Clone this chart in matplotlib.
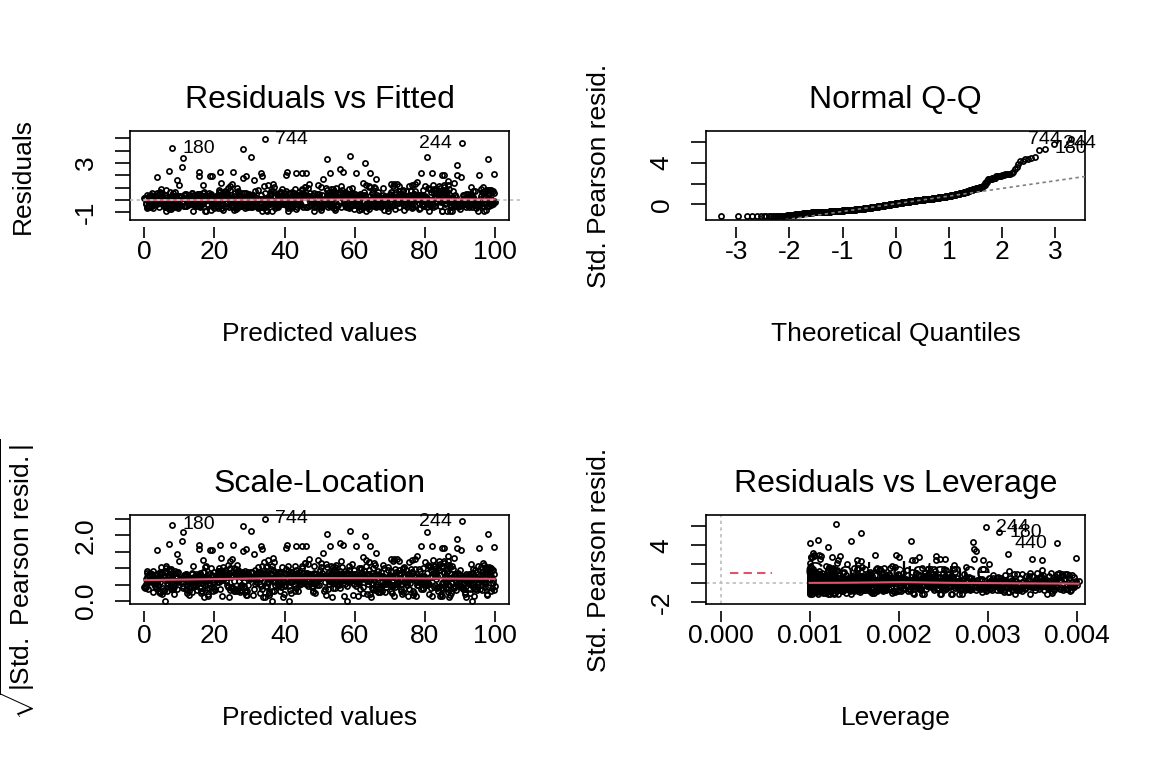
import numpy as np
import matplotlib
matplotlib.use("Agg")
import matplotlib.pyplot as plt
from matplotlib import transforms
from statistics import NormalDist

plt.rcParams["font.family"] = ["Liberation Sans", "DejaVu Sans"]
plt.rcParams["mathtext.fontset"] = "custom"
plt.rcParams["mathtext.rm"] = "Liberation Sans"
plt.rcParams["mathtext.it"] = "Liberation Sans:italic"

# ---- data ----------------------------------------------------------------
# bulk of the observations (predicted value, residual)
band_fitted = [
    43.2, 7.9, 88.4, 21.6, 65.0, 12.3, 97.1, 30.8, 56.7, 79.5,
    3.4, 58.1, 26.9, 91.7, 14.5, 72.2, 38.6, 84.0, 49.3, 60.8,
    95.3, 11.8, 67.4, 33.1, 2.7, 80.6, 45.9, 24.2, 53.5, 76.0,
    28.3, 71.5, 5.6, 99.2, 40.1, 63.7, 17.9, 86.8, 52.4, 35.0,
    61.9, 0.8, 37.7, 82.5, 16.1, 54.6, 93.4, 25.0, 78.3, 47.2,
    13.6, 89.9, 44.7, 6.2, 70.4, 31.5, 57.8, 98.0, 22.1, 66.3,
    50.9, 23.4, 74.8, 9.5, 36.2, 85.1, 18.6, 62.0, 96.5, 41.3,
    81.2, 4.0, 59.6, 29.7, 92.8, 46.5, 15.3, 68.9, 39.4, 73.1,
    34.9, 67.0, 12.9, 55.3, 87.6, 1.9, 48.0, 94.4, 20.5, 77.7,
    7.1, 42.6, 83.7, 27.5, 64.4, 90.3, 52.0, 16.8, 71.0, 38.1,
    97.8, 32.3, 58.9, 14.0, 75.6, 44.1, 6.9, 86.2, 23.8, 61.4,
    19.8, 53.0, 3.1, 79.9, 40.6, 68.2, 95.7, 29.0, 84.5, 36.7,
    63.1, 8.8, 47.4, 91.0, 25.7, 72.9, 35.6, 17.2, 57.1, 82.8,
    45.5, 78.7, 22.6, 0.4, 66.8, 11.1, 88.9, 54.2, 31.9, 99.6,
    26.1, 93.9, 60.0, 38.9, 5.0, 71.8, 15.7, 49.8, 80.1, 57.6,
    70.7, 34.2, 86.0, 12.6, 51.7, 2.3, 64.9, 97.4, 43.8, 27.2,
    9.0, 55.9, 37.3, 76.4, 21.0, 89.2, 48.6, 62.7, 14.8, 93.1,
    87.3, 41.9, 18.0, 65.6, 30.4, 74.3, 6.4, 52.8, 98.9, 23.0,
    56.2, 1.5, 83.0, 33.8, 69.5, 11.9, 94.8, 27.8, 45.0, 79.0,
    32.7, 75.1, 4.6, 60.5, 16.4, 92.2, 47.9, 85.4, 20.8, 53.6,
    68.4, 24.9, 90.6, 44.4, 8.3, 58.4, 13.0, 81.8, 36.1, 77.2,
    15.0, 50.3, 96.1, 29.4, 63.9, 3.8, 73.6, 42.2, 88.1, 35.4,
    84.8, 19.4, 57.3, 37.0, 71.2, 0.2, 46.3, 99.0, 26.6, 65.2,
    40.9, 6.6, 72.6, 23.2, 95.0, 55.0, 31.2, 80.9, 17.5, 67.7,
    59.3, 28.8, 12.2, 87.0, 49.1, 76.9, 3.6, 64.1, 38.4, 91.5,
    22.4, 94.1, 43.6, 69.0, 8.6, 53.9, 17.0, 78.5, 34.5, 85.9,
    77.5, 11.4, 61.6, 30.1, 89.7, 47.0, 5.3, 52.5, 97.9, 24.4,
    36.3, 82.0, 0.7, 66.0, 19.1, 56.5, 92.7, 41.5, 28.0, 73.8,
    53.2, 26.4, 70.0, 14.2, 98.3, 39.7, 86.5, 7.4, 61.1, 45.7,
    90.0, 48.3, 2.9, 75.8, 33.5, 64.6, 21.3, 58.0, 15.9, 81.4,
    11.6, 67.9, 39.8, 83.3, 25.3, 95.9, 50.7, 4.3, 72.0, 44.0,
    61.3, 30.6, 87.8, 9.8, 54.4, 18.4, 79.3, 42.9, 99.4, 27.0,
    46.8, 92.5, 23.7, 68.6, 1.2, 57.9, 35.9, 13.5, 84.2, 74.5,
    5.9, 73.3, 48.9, 31.4, 90.9, 20.0, 65.3, 82.4, 57.0, 16.9,
    85.0, 37.5, 14.7, 60.3, 27.3, 96.8, 44.2, 70.5, 8.1, 52.1,
    29.9, 63.4, 3.0, 77.0, 41.0, 89.0, 18.9, 55.6, 96.3, 34.0,
    71.6, 16.0, 50.0, 92.0, 36.9, 7.7, 80.4, 24.0, 66.5, 43.1,
    54.9, 98.6, 32.0, 10.2, 62.3, 86.9, 45.3, 75.3, 2.0, 21.8,
    17.7, 82.9, 66.2, 38.0, 94.6, 4.9, 51.4, 28.6, 73.0, 40.3,
    43.9, 9.3, 69.3, 25.6, 87.4, 58.6, 12.8, 99.1, 33.3, 78.1,
    64.0, 27.9, 95.2, 47.7, 13.9, 80.0, 0.9, 36.5, 57.4, 70.9,
    20.2, 52.6, 76.2, 35.2, 88.7, 61.8, 42.0, 6.0, 93.6, 15.4,
    97.0, 46.0, 31.7, 72.4, 4.1, 59.8, 17.3, 84.6, 23.5, 68.0,
    38.3, 12.5, 81.0, 55.1, 26.2, 91.4, 65.7, 49.5, 7.3, 75.9,
    2.5, 63.0, 44.6, 90.7, 18.2, 77.8, 30.0, 54.0, 86.3, 22.9,
    79.6, 34.7, 9.7, 59.1, 41.7, 68.8, 14.4, 96.0, 27.6, 85.6,
    50.5, 21.1, 88.0, 6.8, 73.9, 39.3, 62.4, 97.6, 16.6, 45.1,
    32.5, 93.3, 57.7, 11.3, 67.3, 25.9, 83.9, 47.3, 3.3, 71.3,
    60.9, 1.0, 40.0, 76.6, 24.6, 86.1, 53.4, 14.6, 98.2, 34.4,
    17.4, 69.8, 29.3, 92.9, 48.1, 5.2, 80.2, 57.2, 37.8, 74.7,
    44.5, 85.3, 12.0, 63.6, 35.8, 99.3, 22.2, 71.9, 8.4, 51.9,
    91.1, 27.1, 58.3, 3.9, 75.0, 46.4, 16.3, 82.6, 39.5, 65.9,
    6.3, 54.7, 33.0, 78.4, 19.6, 62.1, 88.3, 43.0, 96.6, 24.3,
    70.2, 38.7, 15.5, 49.0, 83.5, 27.4, 94.3, 60.1, 1.7, 56.0,
    7.0, 26.8, 90.4, 64.8, 36.4, 10.9, 73.4, 45.6, 81.7, 53.1,
    59.0, 14.1, 97.3, 42.4, 68.1, 31.1, 86.7, 4.8, 77.3, 20.6,
    35.1, 79.8, 23.9, 95.8, 52.3, 8.9, 66.6, 17.6, 41.4, 87.9,
    83.1, 48.7, 0.5, 61.5, 29.6, 72.8, 13.3, 56.8, 94.0, 37.1,
    19.0, 65.4, 40.5, 89.6, 4.4, 55.4, 30.9, 76.8, 23.1, 98.7,
    47.6, 2.6, 71.4, 33.9, 85.7, 12.7, 58.8, 26.0, 93.0, 63.3,
    74.1, 37.2, 9.1, 52.7, 21.5, 67.6, 96.9, 44.8, 15.2, 81.5,
    28.5, 62.6, 91.9, 5.8, 49.9, 16.2, 84.3, 39.1, 70.6, 54.8,
    58.5, 11.2, 35.3, 80.8, 27.7, 69.4, 43.5, 99.7, 2.1, 75.4,
    42.7, 87.2, 18.3, 66.4, 31.6, 95.1, 7.8, 53.8, 24.7, 73.7,
    13.8, 56.1, 92.3, 36.6, 64.3, 0.0, 77.9, 22.7, 48.4, 85.2,
    68.7, 25.2, 3.7, 79.1, 41.8, 90.8, 34.8, 59.5, 17.1, 86.6,
    97.5, 46.9, 10.4, 63.8, 28.9, 74.9, 38.5, 83.6, 55.7, 6.1,
    32.9, 80.5, 57.5, 19.3, 70.1, 44.3, 8.2, 93.7, 26.3, 61.0,
    54.3, 15.6, 88.6, 39.9, 66.7, 1.4, 75.7, 29.1, 97.2, 47.1,
    22.0, 64.7, 41.2, 84.4, 10.0, 73.2, 31.0, 51.6, 96.4, 5.5,
    87.7, 4.2, 49.4, 60.7, 35.5, 92.6, 18.8, 71.7, 26.5, 56.3,
    38.2, 77.1, 13.1, 55.5, 99.5, 24.1, 67.1, 45.8, 82.1, 8.7,
    61.7, 29.5, 91.2, 47.8, 2.4, 80.3, 16.5, 58.2, 36.8, 72.3,
    10.5, 53.5, 85.8, 33.2, 69.2, 43.7, 94.9, 23.6, 76.3, 0.6,
    48.5, 18.1, 66.1, 34.1, 93.5, 7.6, 52.2, 79.4, 28.4, 83.8,
    71.1, 40.7, 2.2, 96.7, 59.7, 21.9, 87.5, 14.9, 64.2, 30.5,
    25.5, 89.4, 55.2, 6.5, 43.3, 75.5, 17.8, 62.8, 98.4, 36.0,
    52.9, 11.7, 81.3, 39.6, 63.2, 29.8, 94.5, 46.2, 4.7, 70.3,
    86.4, 33.6, 60.6, 19.7, 73.5, 8.5, 45.4, 91.6, 26.7, 50.4,
    15.8, 68.3, 41.6, 97.7, 24.8, 78.0, 1.8, 56.9, 35.7, 82.7,
    59.9, 23.3, 92.1, 37.4, 67.2, 3.2, 74.0, 49.2, 13.7, 88.2,
    30.2, 76.7, 9.6, 65.1, 42.3, 84.9, 54.5, 18.5, 95.4, 21.4,
    69.6, 5.7, 47.5, 90.1, 25.8, 77.4, 14.3, 81.1, 38.8, 53.7,
    44.6, 98.8, 20.4, 54.1, 33.4, 87.1, 63.5, 11.5, 72.7, 0.3,
    78.2, 37.6, 7.2, 61.2, 29.2, 93.8, 16.7, 50.8, 42.8, 84.1,
    12.4, 65.8, 39.2, 91.3, 53.3, 24.5, 82.2, 4.5, 70.8, 46.6,
    33.7, 88.8, 60.2, 16.8, 75.2, 2.8, 49.7, 94.2, 21.2, 58.4,
    53.6, 27.6, 86.0, 9.4, 64.0, 40.2, 97.1, 19.5, 70.4, 35.6,
    7.5, 45.2, 79.7, 31.8, 62.5, 14.0, 92.4, 56.4, 23.0, 83.2,
    66.9, 20.9, 48.2, 95.6, 37.9, 74.2, 1.1, 85.5, 12.1, 59.2,
    41.1, 76.1, 28.7, 99.9, 51.2, 15.1, 88.5, 68.5, 5.1, 32.4,
    81.6, 57.1, 19.9, 46.7, 30.7, 93.2, 67.8, 25.1, 72.5, 9.9,
    34.6, 61.6, 89.8, 13.2, 76.5, 48.8, 1.3, 55.7, 21.7, 98.5,
    27.0, 70.7, 44.1, 7.9, 91.8, 59.4, 16.4, 38.4, 83.4, 65.5,
    50.1, 96.2, 22.5, 68.9, 11.9, 79.2, 40.4, 85.0, 3.6, 31.5,
]
band_resid = [
    -0.71, -0.55, -0.48, -0.33, -0.12, 0.05, 0.21, 0.38, 0.52, 0.81,
    0.12, -0.58, -0.29, 0.47, -0.41, 0.33, -0.07, 1.15, -0.18, 0.02,
    -0.89, -0.47, -0.61, -0.22, -0.36, 0.18, 0.41, -0.01, 0.63, 0.74,
    0.27, -0.44, 0.09, -0.13, 0.56, -0.52, -0.31, 0.92, 0.36, -0.25,
    -0.77, -0.66, -0.39, 0.15, -0.05, 0.29, -0.57, 1.28, 0.43, -0.20,
    0.06, -0.49, 0.24, -0.60, 0.67, -0.34, -0.16, 0.78, -0.02, 0.40,
    -0.45, -0.28, 0.19, -0.63, 0.51, -0.10, 0.35, -0.54, 1.07, 0.00,
    -0.87, 0.31, -0.42, -0.19, 0.11, -0.59, 0.46, -0.35, 0.85, 0.22,
    0.14, -0.50, -0.23, 0.58, -0.38, 0.39, -0.08, 0.72, -0.46, 0.26,
    -0.69, -0.30, 0.08, -0.53, 0.34, -0.14, 0.49, 1.21, -0.41, 0.17,
    0.03, -0.56, 0.44, -0.26, -0.11, 0.61, -0.43, 0.28, 0.95, -0.37,
    -0.62, -0.48, -0.17, 0.23, -0.32, 0.37, 0.10, 0.53, -0.04, 1.33,
    -0.91, -0.58, -0.40, -0.21, 0.07, 0.32, -0.06, 0.19, 0.66, 0.88,
    0.25, -0.64, 0.42, -0.35, -0.51, 0.13, -0.09, 0.70, -0.27, 0.55,
    -0.74, -0.44, -0.29, -0.15, 0.04, 0.20, 0.36, 0.48, 1.12, -0.55,
    0.16, -0.52, -0.24, 0.30, -0.03, -0.47, 0.59, 0.82, -0.33, 0.09,
    -0.40, -0.13, 0.27, -0.60, 0.41, -0.20, 0.05, 0.64, -0.36, 1.02,
    -0.86, -0.53, 0.12, -0.31, 0.38, -0.45, -0.07, 0.22, 0.77, 0.47,
    0.34, -0.57, -0.19, 0.01, -0.68, 0.52, -0.38, 0.18, 0.91, -0.11,
    -0.49, 0.29, -0.25, -0.42, 0.07, 0.45, -0.16, 1.19, 0.35, -0.01,
    -0.79, -0.61, -0.43, -0.28, 0.10, 0.26, 0.40, -0.12, 0.57, 0.75,
    0.21, -0.46, -0.34, 0.03, -0.55, 0.39, -0.22, 0.62, 0.14, 1.25,
    -0.90, -0.50, -0.41, -0.30, -0.02, 0.17, 0.33, 0.08, 0.69, 0.80,
    -0.37, 0.24, -0.58, 0.44, -0.14, -0.47, 0.11, 0.96, 0.31, -0.26,
    0.37, -0.65, -0.09, 0.19, -0.53, 0.50, -0.32, 1.09, -0.18, 0.06,
    -0.83, -0.44, -0.56, -0.20, -0.04, 0.13, 0.28, 0.42, 0.54, 0.73,
    0.02, -0.51, 0.46, -0.39, -0.27, 0.30, -0.45, -0.10, 0.15, 1.17,
    -0.88, -0.42, -0.59, 0.20, -0.15, 0.35, -0.33, 0.09, 0.60, 0.79,
    0.27, -0.62, -0.21, 0.41, -0.48, 0.04, -0.06, 0.65, -0.35, 1.04,
    -0.72, -0.54, -0.37, -0.23, 0.11, -0.01, 0.25, 0.39, 0.49, 0.87,
    -0.46, 0.18, -0.29, 0.58, -0.12, 0.33, -0.57, 0.06, 1.30, -0.40,
    -0.81, -0.43, 0.23, -0.31, -0.64, 0.12, 0.40, -0.08, 0.71, 0.51,
    0.16, -0.55, -0.18, 0.36, -0.47, 0.00, -0.34, 0.53, 0.99, 0.29,
    -0.60, 0.08, -0.25, -0.44, 0.43, -0.13, 0.21, 1.23, -0.02, 0.62,
    -0.89, -0.39, -0.52, -0.17, 0.14, 0.31, 0.44, -0.05, 0.55, 0.83,
    0.38, -0.49, -0.30, 0.05, -0.66, 0.27, 0.47, -0.19, -0.09, 1.11,
    -0.76, -0.58, -0.41, -0.24, -0.07, 0.10, 0.26, 0.42, 0.64, 0.90,
    0.20, -0.36, -0.50, 0.34, -0.15, 0.01, 0.57, -0.44, -0.28, 1.36,
    -0.87, -0.47, 0.16, -0.60, -0.32, 0.37, -0.11, 0.06, 0.52, 0.76,
    -0.42, 0.11, -0.26, 0.28, -0.55, 0.46, -0.03, 0.68, -0.37, 0.19,
    -0.70, -0.52, -0.20, 0.15, -0.35, 0.32, 0.41, -0.08, 0.59, 1.14,
    0.09, -0.45, -0.62, 0.24, -0.16, 0.38, -0.30, 0.00, 0.74, 0.50,
    -0.92, -0.56, -0.43, -0.27, 0.07, 0.22, 0.35, -0.13, 0.45, 0.93,
    0.30, -0.40, -0.21, 0.53, -0.51, 0.04, -0.09, 1.20, 0.17, -0.34,
    -0.67, -0.48, -0.39, -0.14, 0.02, 0.19, 0.36, 0.47, 0.63, 0.70,
    0.13, -0.59, -0.28, 0.40, -0.05, 0.25, -0.46, 0.86, -0.18, 1.06,
    -0.84, -0.53, -0.37, -0.22, 0.06, 0.29, 0.43, -0.04, 0.60, 0.78,
    -0.63, 0.21, -0.31, 0.39, -0.44, -0.10, 0.14, 0.55, -0.24, 1.29,
    0.31, -0.50, -0.16, 0.08, -0.41, 0.48, -0.29, 0.17, 0.84, -0.01,
    -0.86, -0.44, -0.57, -0.33, -0.06, 0.12, 0.27, 0.39, 0.51, 0.72,
    -0.38, 0.26, -0.52, 0.04, 0.42, -0.23, -0.64, 0.61, 0.15, 1.01,
    0.10, -0.47, 0.33, -0.19, -0.55, 0.22, -0.08, 0.57, -0.30, 0.97,
    -0.90, -0.42, -0.60, -0.26, 0.08, 0.34, -0.12, 0.18, 0.66, 0.81,
    0.41, -0.35, -0.49, 0.23, -0.15, 0.06, -0.43, 0.52, 0.29, 1.16,
    -0.75, -0.56, -0.38, -0.20, 0.00, 0.16, 0.32, 0.45, 0.68, 0.89,
    -0.53, 0.19, -0.27, 0.37, -0.45, 0.03, -0.11, 0.58, 1.27, 0.26,
    -0.88, -0.46, 0.14, -0.32, -0.58, 0.30, -0.06, 0.42, 0.53, 0.75,
    0.35, -0.41, -0.22, 0.11, -0.61, 0.49, -0.36, 0.24, -0.02, 1.08,
    -0.78, -0.51, -0.40, -0.17, 0.05, 0.21, 0.37, 0.46, 0.62, 0.77,
    -0.44, 0.28, -0.14, -0.57, 0.40, 0.07, -0.29, 0.56, -0.05, 1.22,
    -0.82, -0.63, -0.45, -0.30, -0.10, 0.13, 0.25, 0.38, 0.50, 0.86,
    0.17, -0.54, -0.33, 0.43, -0.18, -0.43, 0.02, 0.63, 0.30, 0.94,
    -0.69, -0.47, -0.37, -0.23, 0.09, 0.26, 0.44, -0.09, 0.54, 1.13,
    0.36, -0.39, 0.04, -0.50, 0.21, -0.26, -0.58, 0.47, -0.13, 0.73,
    -0.91, -0.55, -0.42, -0.28, -0.04, 0.15, 0.31, 0.40, 0.58, 0.82,
    0.22, -0.48, 0.39, -0.34, -0.62, 0.10, -0.16, 0.55, 0.01, 1.18,
    -0.79, -0.53, -0.40, -0.21, -0.08, 0.18, 0.34, 0.45, 0.67, 0.79,
    0.05, -0.57, 0.29, -0.31, 0.48, -0.44, -0.12, 0.20, 0.96, -0.24,
    -0.85, -0.43, -0.52, -0.19, 0.12, 0.27, 0.41, -0.03, 0.59, 1.31,
    -0.66, -0.35, 0.16, -0.49, 0.32, -0.10, 0.43, -0.27, 0.61, 0.08,
    -0.89, -0.59, -0.41, -0.25, 0.03, 0.23, 0.36, 0.49, -0.07, 0.83,
    0.44, -0.46, -0.17, 0.26, -0.33, -0.56, 0.11, 1.03, -0.02, 0.65,
    -0.73, -0.50, -0.36, -0.14, 0.06, 0.19, 0.35, 0.52, 0.71, -0.23,
    0.25, -0.61, -0.29, 0.40, -0.40, 0.07, -0.09, 0.54, 1.24, 0.14,
    -0.87, -0.45, -0.54, -0.30, 0.00, 0.24, 0.38, -0.11, 0.56, 0.80,
    0.18, -0.39, 0.31, -0.52, -0.21, 0.46, -0.05, 0.09, 1.10, -0.60,
    -0.80, -0.57, -0.44, -0.32, -0.13, 0.11, 0.28, 0.42, 0.60, 0.74,
    0.33, -0.48, -0.20, 0.01, -0.37, 0.50, -0.63, 0.22, 0.85, -0.08,
    -0.92, -0.55, -0.38, -0.26, 0.04, 0.20, 0.37, -0.01, 0.66, 1.05,
    0.12, -0.42, 0.27, -0.53, -0.15, 0.39, -0.31, 0.47, 0.05, 0.91,
    -0.71, -0.51, -0.42, -0.18, -0.06, 0.14, 0.29, 0.45, 0.57, 1.34,
    0.37, -0.58, -0.27, 0.10, -0.46, 0.23, -0.12, 0.53, -0.35, 0.77,
    -0.86, -0.49, -0.40, -0.22, 0.07, 0.30, 0.40, -0.04, 0.61, 0.86,
    0.20, -0.44, 0.34, -0.62, -0.16, 0.03, -0.30, 0.50, 1.15, 0.13,
    -0.76, -0.53, -0.34, -0.20, -0.07, 0.15, 0.33, 0.41, 0.55, 0.70,
    0.26, -0.47, -0.22, 0.44, -0.39, 0.09, -0.56, 0.62, 0.18, 0.99,
    -0.88, -0.50, -0.43, -0.24, 0.02, 0.21, 0.35, -0.10, 0.64, 0.88,
    0.32, -0.41, 0.12, -0.59, -0.28, 0.47, -0.14, 0.25, 1.26, -0.36,
    -0.74, -0.56, -0.38, -0.29, -0.05, 0.17, 0.30, 0.43, 0.51, 0.78,
    0.06, -0.64, 0.38, -0.33, -0.48, 0.24, -0.11, 0.56, -0.19, 1.00,
    -0.90, -0.45, -0.53, -0.17, 0.08, 0.28, 0.41, -0.06, 0.58, 0.84,
    -0.43, 0.22, -0.26, 0.35, -0.60, 0.45, -0.08, 0.15, 0.69, 1.19,
    -0.83, -0.52, -0.39, -0.27, -0.03, 0.20, 0.32, 0.48, 0.63, 0.76,
    0.29, -0.46, -0.18, 0.41, -0.55, 0.03, -0.35, 0.60, -0.12, 1.07,
    -0.68, -0.49, -0.31, -0.15, 0.10, 0.25, 0.36, -0.02, 0.53, 0.72,
]

# scattered large residuals above the band
tail_fitted = [
    11.0, 10.7, 7.1, 3.5, 9.2, 15.7, 15.7, 18.7, 19.2, 21.6,
    25.4, 28.2, 30.3, 29.0, 28.1, 31.3, 33.2, 33.7, 40.4, 40.8,
    43.4, 44.9, 46.1, 52.0, 53.0, 51.1, 55.8, 56.6, 58.7, 60.4,
    62.9, 64.5, 66.1, 62.5, 77.7, 80.7, 78.8, 81.9, 84.8, 85.5,
    86.7, 89.1, 89.1, 90.2, 95.5, 99.8,
]
tail_resid = [
    3.44, 2.65, 2.38, 1.90, 1.60, 2.27, 1.95, 1.92, 1.92, 2.30,
    2.30, 4.12, 3.52, 1.95, 1.80, 1.60, 2.22, 1.95, 2.03, 2.30,
    2.22, 2.17, 2.17, 3.30, 2.17, 1.68, 2.49, 2.30, 3.57, 2.22,
    3.03, 2.17, 1.68, 1.40, 1.45, 3.47, 2.17, 2.17, 2.03, 2.03,
    1.50, 2.84, 2.03, 1.90, 2.03, 2.11,
]

# observations that carry a number label in the plots
named_ids = ["180", "744", "244", "440"]
named_fitted = [8.0, 34.4, 90.5, 98.0]
named_resid = [4.20, 4.93, 4.60, 3.30]

dispersion = 0.615

titles = ["Residuals vs Fitted", "Normal Q-Q", "Scale-Location", "Residuals vs Leverage"]
fit_ticks = [0, 20, 40, 60, 80, 100]
qq_ticks = [-3, -2, -1, 0, 1, 2, 3]
lev_ticks = [0.000, 0.001, 0.002, 0.003, 0.004]
lev_tick_labels = ["0.000", "0.001", "0.002", "0.003", "0.004"]
res_yticks = [-1, 0, 1, 2, 3, 4, 5]
res_ylabels = ["-1", "", "", "", "3", "", ""]
qq_yticks = [0, 2, 4, 6]
qq_ylabels = ["0", "", "4", ""]
sl_yticks = [0.0, 0.5, 1.0, 1.5, 2.0, 2.5]
sl_ylabels = ["0.0", "", "", "", "2.0", ""]
lev_yticks = [-2, 0, 2, 4, 6]
lev_ylabels = ["-2", "", "", "4", ""]

RED = "#DF536B"
GREY = "#BEBEBE"

# ---- derived model quantities ----------------------------------------------
fitted = np.array(band_fitted + tail_fitted + named_fitted)
resid = np.array(band_resid + tail_resid + named_resid)
names = [""] * (len(band_fitted) + len(tail_fitted)) + named_ids
n = len(fitted)

dev = fitted - fitted.mean()
hat = 1 / n + dev ** 2 / np.sum(dev ** 2)
std_resid = resid / np.sqrt(dispersion * (1 - hat))
cooks = std_resid ** 2 * hat / (2 * (1 - hat))

norm = NormalDist()
theo = np.array([norm.inv_cdf((i + 0.5) / n) for i in range(n)])
qq_x = np.empty(n)
qq_x[np.argsort(std_resid)] = theo
q1, q3 = np.percentile(std_resid, [25, 75])
z1, z3 = norm.inv_cdf(0.25), norm.inv_cdf(0.75)
qq_slope = (q3 - q1) / (z3 - z1)
qq_int = q1 - qq_slope * z1


def lowess(x, y, frac=2 / 3, iters=3):
    order = np.argsort(x)
    x, y = x[order], y[order]
    dist = np.abs(x[:, None] - x[None, :])
    k = int(np.ceil(frac * len(x)))
    span = np.partition(dist, k - 1, axis=1)[:, k - 1]
    w0 = (1 - np.clip(dist / np.maximum(span, 1e-12)[:, None], 0, 1) ** 3) ** 3
    robust = np.ones_like(y)
    for _ in range(iters + 1):
        w = w0 * robust
        sw = w.sum(1)
        mx = w @ x / sw
        my = w @ y / sw
        dx = x[None, :] - mx[:, None]
        slope = (w * dx * (y[None, :] - my[:, None])).sum(1) / np.maximum((w * dx ** 2).sum(1), 1e-18)
        fit = my + slope * (x - mx)
        res = y - fit
        u = np.clip(res / (6 * np.median(np.abs(res))), -1, 1)
        robust = (1 - u ** 2) ** 2
    return x, fit


# ---- figure ------------------------------------------------------------------
W, H = 1152, 768
fig = plt.figure(figsize=(W / 100, H / 100), dpi=100)


def panel(left, top):
    return fig.add_axes([left / W, 1 - (top + 89) / H, 379 / W, 89 / H])


def points(ax, x, y):
    ax.plot(x, y, "o", ms=3.7, mfc="none", mec="black", mew=1.25, zorder=2)


def dress(ax, title, xlabel, ylabel, xticks, xlabels, yticks, ylabels, ylab_shift=0):
    ax.set_xticks(xticks, xlabels)
    ax.set_yticks(yticks, ylabels)
    ax.tick_params(direction="out", width=1.2, labelsize=19)
    ax.tick_params(axis="x", length=7.6, pad=2.2)
    ax.tick_params(axis="y", length=10.8, pad=12.5, labelrotation=90)
    for lab in ax.get_yticklabels():
        lab.set_verticalalignment("center")
    for sp in ax.spines.values():
        sp.set_linewidth(1.2)
    # x ticks sit a little below the frame, as in the R device
    ax.spines["bottom"].set_position(("outward", 4.7))
    ax.spines["bottom"].set_visible(False)
    ax.plot([0, 1], [0, 0], transform=ax.transAxes, color="black", lw=1.2,
            clip_on=False, solid_capstyle="projecting", zorder=5)
    ax.set_title(title, fontsize=23, pad=16.3)
    tx = transforms.offset_copy(ax.transAxes, fig=fig, y=-121, units="dots")
    ax.text(0.5, 0, xlabel, transform=tx, ha="center", va="baseline", fontsize=19)
    ty = transforms.offset_copy(ax.transAxes, fig=fig, x=-100, y=ylab_shift, units="dots")
    ax.text(0, 0.5, ylabel, transform=ty, rotation=90, rotation_mode="anchor",
            ha="center", va="baseline", fontsize=19)


def label_points(ax, x, y, idx):
    mid = (x[idx].min() + x[idx].max()) / 2
    for i in idx:
        right = x[i] <= mid
        ax.annotate(names[i], (x[i], y[i]), xytext=(7 if right else -7, 0),
                    textcoords="offset points", ha="left" if right else "right",
                    va="center", fontsize=14, annotation_clip=False)


top_res = np.argsort(-np.abs(resid))[:3]
top_std = np.argsort(-np.abs(std_resid))[:3]
top_cook = np.argsort(-cooks)[:3]

# Residuals vs Fitted
ax1 = panel(130, 131)
points(ax1, fitted, resid)
sx, sy = lowess(fitted, resid)
ax1.plot(sx, sy, color=RED, lw=1.5, zorder=3)
ax1.plot([-4.08, 107], [0, 0], color=GREY, lw=1.2, ls=(0, (2, 2)), zorder=4, clip_on=False)
label_points(ax1, fitted, resid, top_res)
ax1.set_xlim(-4.08, 104)
ax1.set_ylim(-1.63, 5.6)
dress(ax1, titles[0], "Predicted values", "Residuals", fit_ticks,
      [str(t) for t in fit_ticks], res_yticks, res_ylabels)

# Normal Q-Q
ax2 = panel(706, 131)
points(ax2, qq_x, std_resid)
xl = np.array([-3.57, 3.56])
ax2.plot(xl, qq_int + qq_slope * xl, color="#7F7F7F", lw=1.2, ls=(0, (2, 2)), zorder=3)
label_points(ax2, qq_x, std_resid, top_std)
ax2.set_xlim(-3.57, 3.56)
ax2.set_ylim(-1.52, 7.1)
dress(ax2, titles[1], "Theoretical Quantiles", "Std. Pearson resid.", qq_ticks,
      [str(t) for t in qq_ticks], qq_yticks, qq_ylabels)

# Scale-Location
ax3 = panel(130, 515)
root = np.sqrt(np.abs(std_resid))
points(ax3, fitted, root)
sx, sy = lowess(fitted, root)
ax3.plot(sx, sy, color=RED, lw=1.5, zorder=3)
label_points(ax3, fitted, root, top_std)
ax3.set_xlim(-4.08, 104)
ax3.set_ylim(-0.09, 2.62)
dress(ax3, titles[2], "Predicted values", r"$\sqrt{|\mathrm{Std.\ Pearson\ resid.}|}$",
      fit_ticks, [str(t) for t in fit_ticks], sl_yticks, sl_ylabels, ylab_shift=-20)

# Residuals vs Leverage
ax4 = panel(706, 515)
ax4.axhline(0, color=GREY, lw=1.2, ls=(0, (2, 2)), zorder=1)
ax4.axvline(0, color=GREY, lw=1.2, ls=(0, (2, 2)), zorder=1)
ax4.plot([0.063, 0.173], [0.352, 0.352], color=RED, lw=1.5, ls=(0, (4, 2.5)),
         transform=ax4.transAxes, zorder=3)
ax4.text(0.261, 0.352, "Cook's distance", transform=ax4.transAxes, fontsize=19,
         va="center", ha="left", zorder=1.5)
points(ax4, hat, std_resid)
sx, sy = lowess(hat, std_resid)
ax4.plot(sx, sy, color=RED, lw=1.5, zorder=3)
label_points(ax4, hat, std_resid, top_cook)
ax4.set_xlim(-0.000163, 0.00409)
ax4.set_ylim(-2.19, 7.19)
dress(ax4, titles[3], "Leverage", "Std. Pearson resid.", lev_ticks,
      lev_tick_labels, lev_yticks, lev_ylabels)

fig.savefig("out.png", dpi=100, facecolor="white")
